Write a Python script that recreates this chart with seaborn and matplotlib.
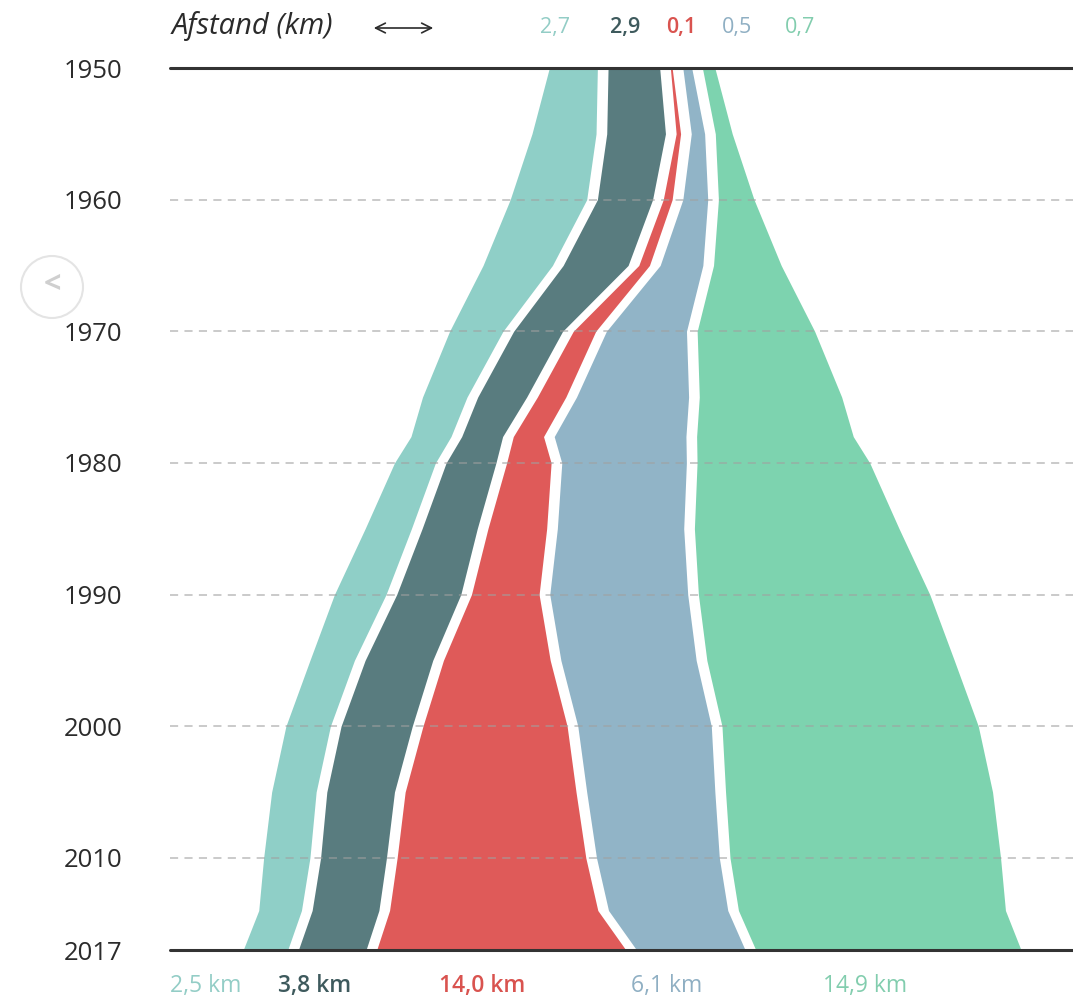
import matplotlib
matplotlib.use("Agg")
import matplotlib.pyplot as plt
from matplotlib.patches import Ellipse, FancyArrowPatch
import numpy as np
import seaborn as sns

# band widths in km (left to right)
years = [1950, 1955, 1960, 1965, 1970, 1975, 1978, 1980, 1985, 1990, 1995, 2000, 2005, 2010, 2014, 2017]
light_teal = [2.7, 3.6, 4.3, 3.9, 3.0, 2.5, 2.25, 2.3, 2.6, 2.9, 2.5, 2.5, 2.5, 2.6, 2.4, 2.5]
dark_teal  = [2.9, 3.3, 3.1, 3.65, 2.75, 2.75, 2.3, 2.8, 3.1, 3.6, 3.8, 4.0, 3.8, 3.7, 3.75, 3.8]
red        = [0.1, 0.25, 0.5, 0.6, 1.26, 1.6, 1.7, 2.5, 3.3, 3.8, 6.0, 8.1, 9.6, 10.6, 11.7, 14.0]
blue       = [0.5, 0.75, 1.4, 2.4, 4.5, 6.3, 7.4, 7.0, 7.1, 7.75, 7.6, 7.5, 7.2, 6.9, 6.7, 6.1]
green      = [0.7, 0.95, 2.0, 3.8, 6.6, 8.0, 8.8, 9.7, 11.5, 13.0, 13.9, 14.4, 15.0, 15.2, 15.0, 14.9]

tick_years = [1950, 1960, 1970, 1980, 1990, 2000, 2010, 2017]
grid_years = [1960, 1970, 1980, 1990, 2000, 2010]
top_labels = ["2,7", "2,9", "0,1", "0,5", "0,7"]
bottom_labels = ["2,5 km", "3,8 km", "14,0 km", "6,1 km", "14,9 km"]

COLORS = ["#8FCFC7", "#597C7F", "#DF5A59", "#91B4C7", "#7DD3AF"]
TEXT_COLORS = ["#93CDC6", "#3E5A5D", "#D9534F", "#8FAFC3", "#82CDAE"]
GAP = 0.6  # white gap between bands (km)

sns.set_theme(style="white")
plt.rcParams["font.family"] = ["Open Sans", "DejaVu Sans"]

W, H = 1073, 1006
fig = plt.figure(figsize=(W / 100, H / 100), dpi=100, facecolor="white")
ax = fig.add_axes([170 / W, 1 - 950 / H, 1 - 170 / W, (950 - 68) / H])

widths = np.array([light_teal, dark_teal, red, blue, green])
yrs = np.array(years)
total = widths.sum(axis=0) + GAP * (len(widths) - 1)
left = -total / 2
for i, (w, c) in enumerate(zip(widths, COLORS)):
    x0 = left + widths[:i].sum(axis=0) + GAP * i
    ax.fill_betweenx(yrs, x0, x0 + w, color=c, lw=0, zorder=2)

for y in grid_years:
    ax.axhline(y, color="#A0A0A0", alpha=0.6, lw=1.3, ls=(0, (4.5, 3.5)), zorder=3)
for y in (1950, 2017):
    ax.axhline(y, color="#333333", lw=2.2, zorder=4, clip_on=False)

ax.set_xlim(-25.96, 24.77)
ax.set_ylim(2017, 1950)
ax.set_xticks([])
ax.set_yticks(tick_years)
ax.set_yticklabels([str(y) for y in tick_years])
ax.tick_params(axis="y", length=0, pad=34, labelsize=18.5, labelcolor="#2B2B2B")
sns.despine(ax=ax, left=True, bottom=True)

# header
fig.text(172 / W, 1 - 26 / H, "Afstand (km)", fontsize=21, style="italic",
         color="#2B2B2B", va="center", ha="left")
fig.add_artist(FancyArrowPatch((371 / W, 1 - 28 / H), (436 / W, 1 - 28 / H),
                               transform=fig.transFigure, arrowstyle="<->,head_length=7,head_width=3.5",
                               color="#2B2B2B", lw=1.2))
top_x = [555, 625, 681, 737, 800]
for x, lab, c in zip(top_x, top_labels, TEXT_COLORS):
    wt = "semibold" if lab in ("2,9", "0,1") else "normal"
    fig.text(x / W, 1 - 27 / H, lab, fontsize=15.5, color=c, fontweight=wt,
             va="center", ha="center")

# bottom values
bot_x = [206, 315, 482, 667, 865]
for x, lab, c in zip(bot_x, bottom_labels, TEXT_COLORS):
    wt = "semibold" if lab in ("3,8 km", "14,0 km") else "normal"
    fig.text(x / W, 1 - 986 / H, lab, fontsize=16.5, color=c, fontweight=wt,
             va="center", ha="center")

# carousel button from the screenshot
fig.patches.append(Ellipse((52 / W, 1 - 287 / H), 62 / W, 62 / H, transform=fig.transFigure,
                           facecolor="white", edgecolor="#E4E4E4", lw=1.5, zorder=5))
fig.text(52 / W, 1 - 285 / H, "<", fontsize=22, fontweight="bold", color="#CFCFCF",
         ha="center", va="center", zorder=6)

fig.savefig("out.png", dpi=100, facecolor="white")
plt.close(fig)
